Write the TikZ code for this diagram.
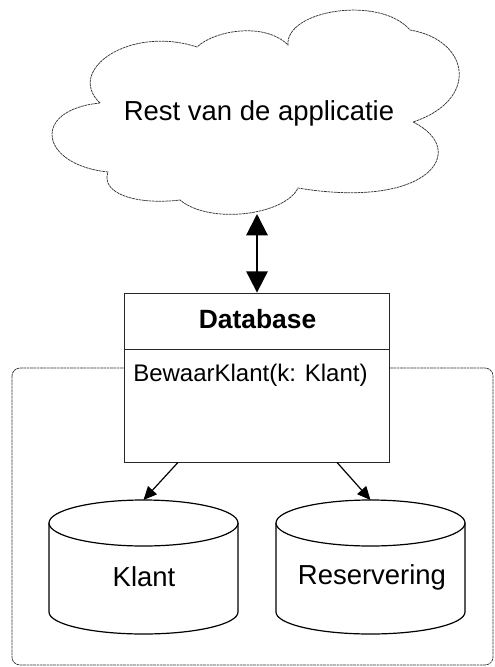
\documentclass[tikz,border=0pt]{standalone}
\usepackage{fontspec}
\setmainfont{Liberation Sans}
\usetikzlibrary{arrows.meta}
\begin{document}
\begin{tikzpicture}[x=0.75pt,y=-0.75pt,
  cloudline/.style={draw=black!80, line width=0.55pt, dash pattern=on 2pt off 0.5pt},
  grouping/.style={draw=black!80, line width=0.55pt, dash pattern=on 2pt off 0.5pt, rounded corners=6pt},
  classbox/.style={draw=black!85, fill=white, line width=0.6pt, minimum width=198.75pt, minimum height=126.75pt, inner sep=0pt},
  cylline/.style={draw=black, line width=0.9pt, fill=white},
  bigtxt/.style={font=\fontsize{20.6}{24}\selectfont, inner sep=0pt},
  dbarrow/.style={line width=1.5pt, {Triangle[length=16pt,width=16pt]}-{Triangle[length=16pt,width=16pt]}},
  smarrow/.style={line width=0.9pt, -{Triangle[length=10pt,width=9pt]}}
]
\useasboundingbox (0,0) rectangle (494,667);
% grouping frame
\draw[grouping] (12,368) rectangle (493,665);
% cloud
\draw[cloudline, fill=white] (100,103)
  .. controls (65,70) and (130,25) .. (197,47)
  .. controls (215,30) and (265,22) .. (288,45)
  .. controls (285,10) and (380,-5) .. (410,30)
  .. controls (470,40) and (480,100) .. (413,122)
  .. controls (470,150) and (430,210) .. (298,188)
  .. controls (285,215) and (210,225) .. (180,200)
  .. controls (140,205) and (100,195) .. (108,172)
  .. controls (40,165) and (30,110) .. cycle;
\node[bigtxt] (cloud) at (259,113) {Rest van de applicatie};
\coordinate (cloudbot) at (257,214);
% class box
\node[classbox] (db) at (256.5,377.5) {};
\draw[draw=black!85, line width=0.6pt] (db.west |- 0,349) -- (db.east |- 0,349);
\node[font=\fontsize{19.8}{23}\selectfont\bfseries, inner sep=0pt] (dbname) at (257.5,319) {Database};
\node[font=\fontsize{18}{22}\selectfont, inner sep=0pt, anchor=west] (op) at (133,375) {BewaarKlant(k: Klant)};
% cylinders
\draw[cylline] (49,523) -- (49,612) arc[start angle=180,end angle=0,x radius=94.5,y radius=22] -- (238,523) arc[start angle=0,end angle=-180,x radius=94.5,y radius=23] -- cycle;
\draw[cylline] (49,523) arc[start angle=180,end angle=0,x radius=94.5,y radius=23];
\node[bigtxt] (klant) at (144,577) {Klant};
\coordinate (klanttop) at (143.5,500);
\draw[cylline] (276,523) -- (276,612) arc[start angle=180,end angle=0,x radius=94.5,y radius=22] -- (465,523) arc[start angle=0,end angle=-180,x radius=94.5,y radius=23] -- cycle;
\draw[cylline] (276,523) arc[start angle=180,end angle=0,x radius=94.5,y radius=23];
\node[bigtxt] (res) at (372,577) {Reservering};
\coordinate (restop) at (370.5,500);
% connectors
\draw[dbarrow] (cloudbot) -- (db.north -| cloudbot);
\draw[smarrow] (db.south -| 178,0) -- (klanttop);
\draw[smarrow] (db.south -| 337,0) -- (restop);
\end{tikzpicture}
\end{document}
